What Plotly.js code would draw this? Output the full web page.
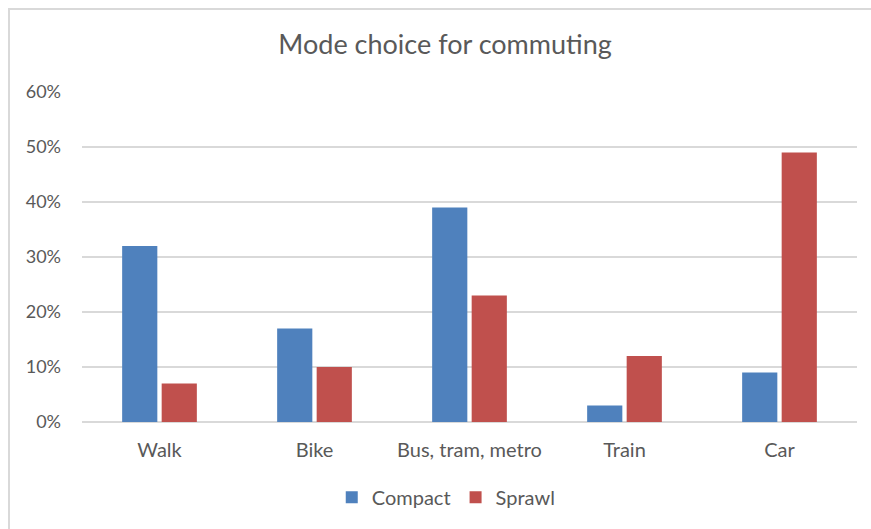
<!DOCTYPE html>
<html>
<head>
<meta charset="utf-8">
<script src="https://cdn.plot.ly/plotly-3.0.1.min.js"></script>
<style>
html,body{margin:0;padding:0;background:#fff;}
#frame{position:absolute;left:8px;top:8px;width:880px;height:540px;border:2px solid #D9D9D9;box-sizing:border-box;}
#chart{position:absolute;left:0;top:0;width:871px;height:529px;}
</style>
</head>
<body>
<div id="frame"></div>
<div id="chart"></div>
<script>
const categories = ["Walk", "Bike", "Bus, tram, metro", "Train", "Car"];
const compact = [0.32, 0.17, 0.39, 0.03, 0.09];
const sprawl = [0.07, 0.10, 0.23, 0.12, 0.49];
const yTicks = [0, 0.1, 0.2, 0.3, 0.4, 0.5, 0.6];
const yTickLabels = ["0%", "10%", "20%", "30%", "40%", "50%", "60%"];

const font = "Lato, 'Open Sans', sans-serif";
const data = [
  {type: "bar", name: "Compact", x: categories, y: compact, marker: {color: "#4F81BD"}},
  {type: "bar", name: "Sprawl", x: categories, y: sprawl, marker: {color: "#C0504D"}}
];
const layout = {
  width: 871, height: 529,
  paper_bgcolor: "rgba(0,0,0,0)", plot_bgcolor: "rgba(0,0,0,0)",
  margin: {l: 82, r: 14, t: 92, b: 107},
  font: {family: font, color: "#595959"},
  title: {text: "Mode choice for commuting", x: 0.511, xanchor: "center", y: 0.915, yanchor: "middle", font: {size: 27, color: "#595959", family: font}},
  barmode: "group", bargap: 0.49, bargroupgap: 0.11,
  xaxis: {type: "category", showgrid: false, showline: false, ticks: "", tickfont: {size: 20, color: "#595959"}, ticklabelstandoff: 14},
  yaxis: {range: [0, 0.6], tickvals: yTicks, ticktext: yTickLabels, showgrid: true, gridcolor: "#D9D9D9", gridwidth: 1.5,
          zeroline: true, zerolinecolor: "#D9D9D9", zerolinewidth: 1.5, showline: false, ticks: "",
          tickfont: {size: 18, color: "#595959"}, ticklabelstandoff: 20},
  showlegend: true,
  legend: {orientation: "h", x: 0.47, xanchor: "center", yref: "container", y: 0.06, yanchor: "middle", font: {size: 20, color: "#595959"}, itemwidth: 30, traceorder: "normal"}
};
Plotly.newPlot("chart", data, layout, {displayModeBar: false, staticPlot: true});
</script>
</body>
</html>
